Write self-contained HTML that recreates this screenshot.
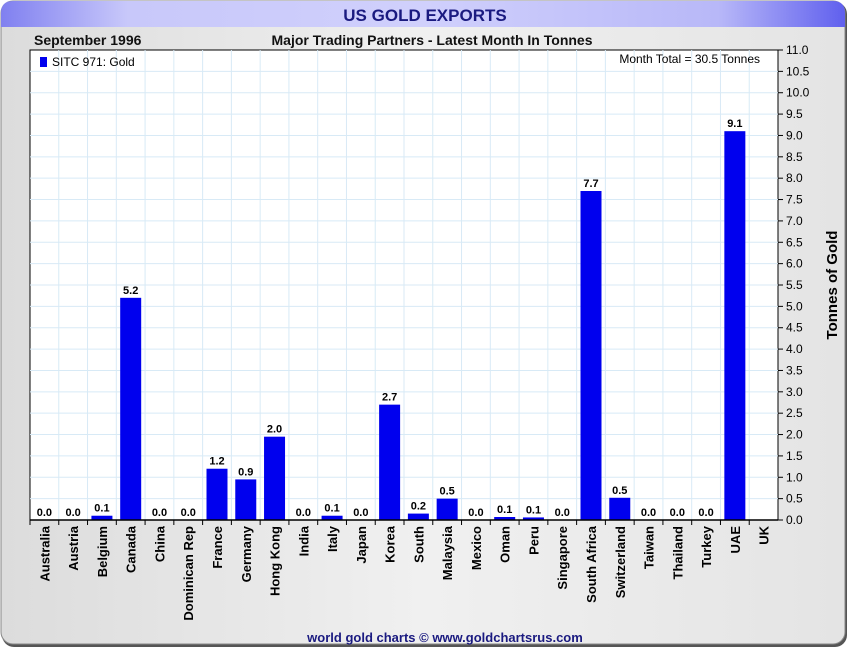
<!DOCTYPE html>
<html><head><meta charset="utf-8"><style>
body{margin:0;width:850px;height:650px;overflow:hidden;background:#fff;font-family:"Liberation Sans",sans-serif}
</style></head><body>
<svg id="c" width="850" height="650" xmlns="http://www.w3.org/2000/svg">
<defs>
<linearGradient id="bg" x1="0" y1="0" x2="1" y2="0"><stop offset="0" stop-color="#dcdcdc"/><stop offset="0.5" stop-color="#f0f0f0"/><stop offset="1" stop-color="#e4e4e4"/></linearGradient>
<linearGradient id="tb" x1="0" y1="0" x2="1" y2="0"><stop offset="0" stop-color="#8080f0"/><stop offset="0.15" stop-color="#c8c8fa"/><stop offset="0.5" stop-color="#d0d0fc"/><stop offset="0.85" stop-color="#b8b8f8"/><stop offset="1" stop-color="#6060ee"/></linearGradient>
</defs>
<rect x="2" y="2" width="845" height="645" rx="12" fill="#555"/>
<rect x="1" y="1" width="844" height="643" rx="12" fill="url(#bg)" stroke="#888"/>
<path d="M1,27 L1,13 Q1,1 13,1 L833,1 Q845,1 845,13 L845,27 Z" fill="url(#tb)"/>
<text x="425" y="21" text-anchor="middle" font-size="17" font-weight="bold" fill="#1a1a80">US GOLD EXPORTS</text>
<text x="34" y="45" font-size="14" font-weight="bold" fill="#111">September 1996</text>
<text x="432" y="45" text-anchor="middle" font-size="14" font-weight="bold" fill="#111">Major Trading Partners - Latest Month In Tonnes</text>
<rect x="30" y="50" width="748" height="470" fill="#fff" stroke="#000"/>
<g id="grid"></g><g id="bars"></g><g id="axis"></g>
<rect x="40" y="57" width="7" height="10" fill="#0000ee"/>
<text x="52" y="66" font-size="12" fill="#000">SITC 971: Gold</text>
<text x="760" y="63" text-anchor="end" font-size="12" fill="#000">Month Total = 30.5 Tonnes</text>
<text transform="translate(837,285) rotate(-90)" text-anchor="middle" font-size="15" font-weight="bold" fill="#000">Tonnes of Gold</text>
<text x="445" y="642" text-anchor="middle" font-size="13" font-weight="bold" fill="#1a1a80">world gold charts © www.goldchartsrus.com</text>
</svg>
<script>
const categories=["Australia","Austria","Belgium","Canada","China","Dominican Rep","France","Germany","Hong Kong","India","Italy","Japan","Korea","South","Malaysia","Mexico","Oman","Peru","Singapore","South Africa","Switzerland","Taiwan","Thailand","Turkey","UAE","UK"];
const values=[0,0,0.1,5.2,0,0,1.2,0.95,1.95,0,0.1,0,2.7,0.15,0.5,0,0.07,0.06,0,7.7,0.52,0,0,0,9.1,null];
const labels=["0.0","0.0","0.1","5.2","0.0","0.0","1.2","0.9","2.0","0.0","0.1","0.0","2.7","0.2","0.5","0.0","0.1","0.1","0.0","7.7","0.5","0.0","0.0","0.0","9.1",""];
const yTicks=[0,0.5,1,1.5,2,2.5,3,3.5,4,4.5,5,5.5,6,6.5,7,7.5,8,8.5,9,9.5,10,10.5,11];
const NS="http://www.w3.org/2000/svg";
const L=30,R=778,T=50,B=520,YMAX=11;
const n=categories.length;
const bw=(R-L)/n;
const y=v=>B-(v/YMAX)*(B-T);
const x=i=>L+bw*i+bw/2;
function mk(t,a,p){const e=document.createElementNS(NS,t);for(const k in a)e.setAttribute(k,a[k]);p.appendChild(e);return e;}
const grid=document.getElementById('grid'),bars=document.getElementById('bars'),axis=document.getElementById('axis');
yTicks.forEach(t=>{
 if(t>0&&t<YMAX){const g=mk('line',{x1:L,x2:R,y1:y(t),y2:y(t),stroke:'#d8eaf6'},grid);
 
 }
 const tk=mk('line',{x1:R,x2:R+5,y1:y(t),y2:y(t),stroke:'#000'},axis);
 
 
 const tl=mk('text',{x:R+8,y:y(t)+4,'font-size':12,fill:'#000'},axis);
 tl.textContent=t.toFixed(1);
 
 
});
categories.forEach((c,i)=>{
 const bx=L+bw*i;
 if(i>0){const g=mk('line',{x1:bx,x2:bx,y1:T,y2:B,stroke:'#d8eaf6'},grid);
 
 }
 const tk=mk('line',{x1:bx,x2:bx,y1:B,y2:B+5,stroke:'#000'},axis);
 
 
 const cx=x(i);
 const tl=mk('text',{transform:`translate(${cx+5},${B+6}) rotate(-90)`,'text-anchor':'end','font-size':13,'font-weight':'bold',fill:'#000'},axis);
 tl.textContent=c;
 
 
 const v=values[i];
 if(v!==null){
  const h=B-y(v);
  if(h>0){const r=mk('rect',{x:cx-10.5,y:y(v),width:21,height:h,fill:'#0000ee'},bars);
  
  }
  const vl=mk('text',{x:cx,y:y(v)-4,'text-anchor':'middle','font-size':11,'font-weight':'bold',fill:'#000'},bars);
  vl.textContent=labels[i];
  
  
 }
});
const ax=mk('line',{x1:L,x2:R,y1:B,y2:B,stroke:'#000','stroke-width':1.5},axis);


</script>
</body></html>
